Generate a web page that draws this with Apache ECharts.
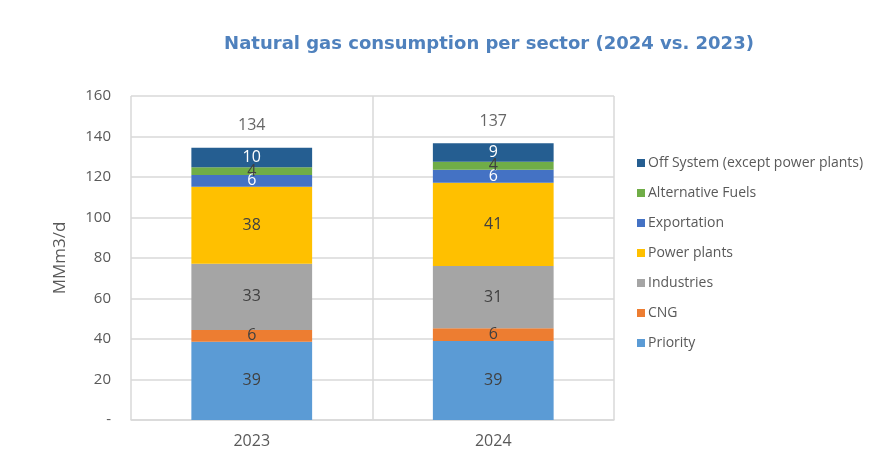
<!DOCTYPE html>
<html>
<head>
<meta charset="utf-8">
<script src="https://cdn.jsdelivr.net/npm/echarts@6/dist/echarts.min.js"></script>
<style>
  html, body { margin: 0; padding: 0; background: #fff; }
  #chart { width: 874px; height: 455px; }
</style>
</head>
<body>
<div id="chart"></div>
<script>
'use strict'
// Natural gas consumption per sector, MMm3/d
var years = ['2023', '2024']
var priority = [38.7, 39.0]
var cng = [5.8, 6.3]
var industries = [32.6, 30.7]
var powerPlants = [38.1, 41.2]
var exportation = [5.8, 6.4]
var altFuels = [3.8, 3.9]
var offSystem = [9.6, 9.2]
var yTicks = [0, 20, 40, 60, 80, 100, 120, 140, 160]

var sectors = [
  { name: 'Priority', data: priority, color: '#5B9BD5', text: '#404040' },
  { name: 'CNG', data: cng, color: '#ED7D31', text: '#404040' },
  { name: 'Industries', data: industries, color: '#A5A5A5', text: '#404040' },
  { name: 'Power plants', data: powerPlants, color: '#FFC000', text: '#404040' },
  { name: 'Exportation', data: exportation, color: '#4472C4', text: '#ffffff' },
  { name: 'Alternative Fuels', data: altFuels, color: '#70AD47', text: '#404040' },
  { name: 'Off System (except power plants)', data: offSystem, color: '#255E91', text: '#ffffff' }
]

var totals = years.map(function (y, i) {
  return sectors.reduce(function (s, sec) { return s + sec.data[i] }, 0)
})

var series = sectors.map(function (sec) {
  return {
    name: sec.name,
    type: 'bar',
    stack: 'total',
    barWidth: '50%',
    data: sec.data,
    itemStyle: { color: sec.color },
    label: {
      show: true,
      position: 'inside',
      color: sec.text,
      fontSize: 16,
      fontFamily: 'Open Sans',
      formatter: function (p) { return Math.round(p.value) }
    }
  }
})

series.push({
  name: 'Total',
  type: 'scatter',
  data: totals,
  symbolSize: 0,
  silent: true,
  label: {
    show: true,
    position: 'top',
    distance: 14,
    color: '#404040',
    fontSize: 16,
    fontFamily: 'Open Sans',
    formatter: function (p) { return Math.round(p.value) }
  }
})

var chart = echarts.init(document.getElementById('chart'))
chart.setOption({
  animation: false,
  title: {
    text: 'Natural gas consumption per sector (2024 vs. 2023)',
    left: 484,
    top: 30,
    textAlign: 'center',
    textStyle: {
      color: '#4F81BD',
      fontSize: 18,
      fontWeight: 'bold',
      fontFamily: 'DejaVu Sans'
    }
  },
  legend: {
    orient: 'vertical',
    left: 632,
    top: 151,
    itemGap: 16,
    itemWidth: 8,
    itemHeight: 8,
    icon: 'rect',
    data: sectors.map(function (s) { return s.name }).reverse(),
    textStyle: { color: '#595959', fontSize: 14, lineHeight: 14, fontFamily: 'Open Sans', padding: [0, 0, 0, -2] }
  },
  grid: { left: 131, right: 260, top: 96, bottom: 35 },
  xAxis: {
    type: 'category',
    data: years,
    axisTick: { show: false },
    axisLine: { lineStyle: { color: '#D9D9D9', width: 1.5 } },
    splitLine: { show: true, lineStyle: { color: '#D9D9D9', width: 1.5 } },
    axisLabel: { color: '#595959', fontSize: 16, fontFamily: 'Open Sans', margin: 13 }
  },
  yAxis: {
    type: 'value',
    min: yTicks[0],
    max: yTicks[yTicks.length - 1],
    interval: yTicks[1] - yTicks[0],
    name: 'MMm3/d',
    nameLocation: 'middle',
    nameGap: 62,
    nameTextStyle: { color: '#595959', fontSize: 17, fontFamily: 'Open Sans' },
    axisLine: { show: false },
    axisTick: { show: false },
    splitLine: { lineStyle: { color: '#D9D9D9', width: 1.5 } },
    axisLabel: {
      color: '#595959',
      fontSize: 15,
      fontFamily: 'Open Sans',
      margin: 20,
      formatter: function (v) { return v === 0 ? '-' : v }
    }
  },
  series: series
})
</script>
</body>
</html>
